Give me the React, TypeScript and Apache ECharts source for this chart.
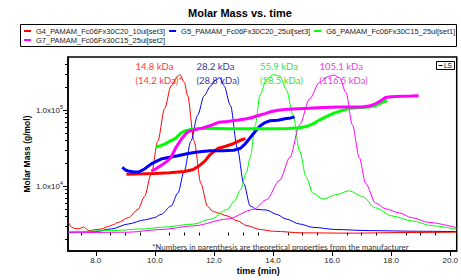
import React, { useEffect, useRef } from 'react';
import * as echarts from 'echarts';

// ---------- data ----------
const seriesNames = [
  'G4_PAMAM_Fc06Fx30C20_10ul[set3]',
  'G5_PAMAM_Fc06Fx30C20_25ul[set3]',
  'G6_PAMAM_Fc06Fx30C15_25ul[set1]',
  'G7_PAMAM_Fc06Fx30C15_25ul[set2]',
];

// Molar mass (g/mol) vs time (min)
const g4Mass = [
  [9.04, 14300], [9.3, 14400], [9.6, 14500], [10.0, 14700], [10.5, 15000], [11.0, 15600],
  [11.3, 16500], [11.5, 18500], [11.7, 21500], [11.85, 25500], [12.0, 28500], [12.15, 31500],
  [12.4, 33500], [12.6, 35500], [12.8, 38500], [12.95, 41000], [13.07, 42000],
];
const g5Mass = [
  [8.9, 17700], [9.0, 16300], [9.1, 15800], [9.3, 15300], [9.45, 15300], [9.65, 16800],
  [9.88, 19600], [10.05, 21200], [10.21, 22700], [10.5, 24000], [10.78, 25100], [11.05, 26500],
  [11.33, 27700], [11.6, 28500], [11.89, 29100], [12.3, 29300], [12.67, 29600], [12.9, 31500],
  [13.06, 36000], [13.2, 42000], [13.39, 52000], [13.56, 62000], [13.73, 68500], [13.9, 72500],
  [14.17, 73500], [14.4, 76800], [14.6, 79000], [14.73, 81000],
];
const g6Mass = [
  [10.04, 32700], [10.2, 34000], [10.35, 36000], [10.48, 38500], [10.7, 42500], [10.87, 49500],
  [11.0, 53000], [11.15, 55000], [11.5, 57500], [12.0, 57500], [12.5, 57000], [13.0, 57000],
  [13.5, 57000], [14.0, 57000], [14.5, 57500], [14.9, 58500], [15.12, 60800], [15.35, 66000],
  [15.57, 74000], [15.8, 82000], [16.02, 90000], [16.3, 98000], [16.58, 104600], [16.9, 108000],
  [17.25, 110000], [17.45, 114000], [17.59, 121000], [17.75, 128000], [17.87, 134000],
];
const g7Mass = [
  [9.88, 15800], [10.05, 17000], [10.21, 18700], [10.4, 21000], [10.55, 24000], [10.71, 32000],
  [10.85, 39000], [10.93, 43000], [11.05, 49000], [11.15, 52500], [11.33, 55000], [11.6, 58000],
  [11.94, 63800], [12.16, 69000], [12.45, 71000], [12.83, 74000], [13.1, 77000], [13.3, 80000],
  [13.5, 85000], [13.73, 90000], [13.95, 96000], [14.17, 99500], [14.5, 103000], [14.85, 104500],
  [15.2, 106000], [15.52, 107700], [16.19, 110000], [16.6, 110000], [17.03, 110000], [17.25, 113000],
  [17.47, 121000], [17.65, 133000], [17.81, 147000], [18.0, 150000], [18.37, 152000], [18.7, 153000],
  [18.93, 155000],
];

// Light-scattering detector signal (normalised) vs time (min)
const g4LS = [
  [7.06, 0.07], [7.19, 0.033], [7.3, 0.025], [7.42, 0.023], [7.52, 0.03], [7.59, 0.036], [7.66, 0.025],
  [7.76, 0.012], [7.88, 0.015], [7.98, 0.019], [8.1, 0.02], [8.2, 0.023], [8.43, 0.039], [8.6, 0.05],
  [8.76, 0.064], [9.1, 0.094], [9.43, 0.146], [9.65, 0.228], [9.88, 0.372], [10.1, 0.578], [10.33, 0.784],
  [10.55, 0.928], [10.78, 0.99], [10.85, 1.0], [11.0, 0.949], [11.11, 0.866], [11.33, 0.578], [11.56, 0.31],
  [11.78, 0.167], [11.95, 0.135], [12.12, 0.125], [12.45, 0.105], [12.79, 0.074], [13.12, 0.043],
  [13.57, 0.019], [14.01, 0.008], [15.01, -0.002], [16.69, -0.004], [18.5, 0.0], [20.22, 0.002],
];
const g5LS = [
  [7.06, 0.002], [7.98, 0.006], [8.54, 0.023], [9.1, 0.054], [9.65, 0.08], [9.99, 0.094], [10.21, 0.115],
  [10.55, 0.167], [10.78, 0.249], [11.0, 0.393], [11.22, 0.578], [11.45, 0.743], [11.67, 0.866],
  [11.89, 0.928], [12.05, 0.965], [12.2, 0.98], [12.34, 0.93], [12.56, 0.804], [12.79, 0.537],
  [13.01, 0.31], [13.23, 0.167], [13.46, 0.146], [13.78, 0.142], [14.12, 0.115], [14.45, 0.085],
  [14.9, 0.054], [15.35, 0.033], [16.13, 0.019], [17.25, 0.012], [18.93, 0.008], [20.22, 0.006],
];
const g6LS = [
  [7.06, 0.002], [8.5, 0.012], [9.65, 0.023], [10.21, 0.033], [11.33, 0.054], [11.89, 0.085],
  [12.45, 0.146], [12.7, 0.2], [12.9, 0.27], [13.1, 0.38], [13.23, 0.475], [13.4, 0.68], [13.56, 0.87],
  [13.78, 0.969], [14.01, 1.0], [14.23, 0.99], [14.45, 0.907], [14.68, 0.743], [14.9, 0.517],
  [15.12, 0.352], [15.35, 0.249], [15.69, 0.212], [16.13, 0.239], [16.58, 0.264], [17.03, 0.228],
  [17.47, 0.156], [18.03, 0.105], [18.7, 0.074], [19.38, 0.043], [20.22, 0.02],
];
const g7LS = [
  [7.06, -0.002], [9.1, 0.002], [10.21, 0.019], [11.33, 0.043], [12.45, 0.085], [13.34, 0.146],
  [13.78, 0.208], [14.23, 0.331], [14.57, 0.475], [14.9, 0.681], [15.24, 0.846], [15.57, 0.949],
  [15.91, 0.99], [16.05, 0.997], [16.25, 0.98], [16.47, 0.887], [16.69, 0.681], [16.92, 0.475],
  [17.14, 0.31], [17.47, 0.187], [17.81, 0.15], [18.26, 0.125], [18.7, 0.094], [19.26, 0.064],
  [20.22, 0.03],
];

const xTickLabels = [8, 10, 12, 14, 16, 18, 20];
const xMinorTicks = [7.5, 8.5, 9, 9.5, 10.5, 11, 11.5, 12.5, 13, 13.5, 14.5, 15, 15.5, 16.5, 17, 17.5, 18.5, 19, 19.5];
const yMajorTicks = [10000, 100000];
const yMinorTicks = [
  2000, 3000, 4000, 5000, 6000, 7000, 8000, 9000,
  20000, 30000, 40000, 50000, 60000, 70000, 80000, 90000,
  200000, 300000, 400000,
];
const measuredMass = ['14.8 kDa', '28.2 kDa', '55.9 kDa', '105.1 kDa'];
const theoreticalMass = ['(14.2 kDa)*', '(28.8 kDa)', '(58.5 kDa)', '(116.5 kDa)'];
const footnote = '*Numbers in parenthesis are theoretical properties from the manufacturer';

// ---------- styles ----------
const lineColors = ['#ff0000', '#0000ff', '#00ff00', '#ff00ff'];
const noteColors = ['#ff3a3a', '#3838a8', '#3fdc3f', '#e445e4'];
const noteX = [135.5, 196.5, 260, 319.5];

export default function App() {
  const ref = useRef<HTMLDivElement>(null);
  useEffect(() => {
    const chart = echarts.init(ref.current as HTMLDivElement, null, { renderer: 'svg' });
    const xMin = 7.06, xMax = 20.22;
    const yMin = 1400, yMax = 500000;
    const lsMin = -0.117, lsMax = 1.111;
    const massSets = [g4Mass, g5Mass, g6Mass, g7Mass];
    const lsSets = [g4LS, g5LS, g6LS, g7LS];
    const series: any[] = [];
    lsSets.forEach((d, i) =>
      series.push({
        name: seriesNames[i] + ' LS', type: 'line', xAxisIndex: 0, yAxisIndex: 1, data: d,
        symbol: 'none', smooth: 0.3, smoothMonotone: 'x', silent: true, z: 2,
        lineStyle: { color: lineColors[i], width: 1 }, itemStyle: { color: lineColors[i] },
      })
    );
    massSets.forEach((d, i) =>
      series.push({
        name: seriesNames[i], type: 'line', xAxisIndex: 0, yAxisIndex: 0, data: d,
        symbol: 'none', silent: true, z: 3,
        lineStyle: { color: lineColors[i], width: 3 }, itemStyle: { color: lineColors[i] },
      })
    );

    const legendBase = {
      left: 24, orient: 'horizontal', itemGap: 4, itemWidth: 7, itemHeight: 2, icon: 'rect',
      padding: 0, selectedMode: false,
      textStyle: { fontSize: 7.5, fontFamily: 'Liberation Sans', color: '#222' },
    };

    const graphic: any[] = [
      {
        type: 'rect', silent: true, shape: { x: 20.5, y: 24.5, width: 436, height: 22 },
        style: { fill: 'none', stroke: '#000', lineWidth: 1 },
      },
      {
        type: 'group', silent: true, children: [
          { type: 'rect', shape: { x: 436.5, y: 61.5, width: 18, height: 8 }, style: { fill: '#fff', stroke: '#000', lineWidth: 1 } },
          { type: 'line', shape: { x1: 438.5, y1: 65.5, x2: 442.5, y2: 65.5 }, style: { stroke: '#000', lineWidth: 1 } },
          { type: 'text', x: 444, y: 65.8, style: { text: 'LS', fontSize: 6.5, fontFamily: 'Liberation Sans', fill: '#000', verticalAlign: 'middle', align: 'left' } },
        ],
      },
      {
        type: 'text', silent: true, x: 152, y: 247,
        style: { text: footnote, fontSize: 7.95, fontFamily: 'Lato', fill: '#333', verticalAlign: 'middle', align: 'left' },
      },
    ];
    measuredMass.forEach((t, i) => {
      graphic.push({
        type: 'text', silent: true, x: noteX[i], y: 66.7,
        style: { text: t, fontSize: 9.5, fontFamily: 'Lato', fill: noteColors[i], verticalAlign: 'middle', align: 'left' },
      });
      graphic.push({
        type: 'text', silent: true, x: noteX[i], y: 80.3,
        style: { text: theoreticalMass[i], fontSize: 9.5, fontFamily: 'Lato', fill: noteColors[i], verticalAlign: 'middle', align: 'left' },
      });
    });

    const logMin = Math.log10(yMin), logMax = Math.log10(yMax);

    chart.setOption({
      animation: false,
      backgroundColor: '#fff',
      title: {
        text: 'Molar Mass vs. time', left: 188, top: 7, padding: 0,
        textStyle: { fontSize: 11, fontWeight: 'bold', color: '#000', fontFamily: 'Liberation Sans' },
      },
      legend: [
        { ...legendBase, top: 27, data: seriesNames.slice(0, 3) },
        { ...legendBase, top: 36, data: [seriesNames[3]] },
      ],
      grid: { left: 68, right: 1, top: 57, bottom: 24, show: true, borderColor: '#000', borderWidth: 1.5, backgroundColor: 'transparent' },
      xAxis: [
        {
          type: 'value', min: xMin, max: xMax, position: 'bottom',
          axisLine: { show: true, onZero: false, lineStyle: { color: '#000', width: 1.5 } },
          axisTick: { show: true, customValues: xTickLabels, length: 5, lineStyle: { color: '#000' } },
          axisLabel: {
            customValues: xTickLabels, formatter: (v: number) => v.toFixed(1), fontSize: 8,
            fontFamily: 'Liberation Sans', color: '#222', margin: 5,
          },
          splitLine: { show: false },
          name: 'time (min)', nameLocation: 'middle', nameGap: 15, nameMoveOverlap: false,
          nameTextStyle: { fontSize: 9, fontWeight: 'bold', color: '#000', fontFamily: 'Liberation Sans', padding: [0, 8, 0, 0] },
        },
        {
          type: 'value', min: xMin, max: xMax, position: 'bottom',
          axisLine: { show: false },
          axisTick: { show: true, customValues: xMinorTicks, length: 3, lineStyle: { color: '#000' } },
          axisLabel: { show: false }, splitLine: { show: false },
        },
      ],
      yAxis: [
        {
          type: 'log', logBase: 10, min: yMin, max: yMax, position: 'left',
          axisLine: { show: true, onZero: false, lineStyle: { color: '#000', width: 1.5 } },
          axisTick: { show: false }, minorTick: { show: false },
          axisLabel: { show: false },
          splitLine: { show: false },
          name: 'Molar Mass (g/mol)', nameLocation: 'middle', nameGap: 37, nameMoveOverlap: false,
          nameTextStyle: { fontSize: 8.5, fontWeight: 'bold', color: '#000', fontFamily: 'Liberation Sans' },
        },
        { type: 'value', min: lsMin, max: lsMax, show: false },
        {
          // decade labels and major ticks of the log axis (log10 space)
          type: 'value', min: logMin, max: logMax, position: 'left',
          axisLine: { show: false },
          axisTick: { show: true, customValues: yMajorTicks.map(Math.log10), length: 5, lineStyle: { color: '#000' } },
          axisLabel: {
            customValues: yMajorTicks.map(Math.log10), margin: 5,
            formatter: (v: number) => '{a|1.0x10}{b|' + Math.round(v) + '}',
            rich: {
              a: { fontSize: 8, fontFamily: 'Liberation Sans', color: '#222', lineHeight: 13 },
              b: { fontSize: 5.5, fontFamily: 'Liberation Sans', color: '#222', verticalAlign: 'top', lineHeight: 13 },
            },
          },
          splitLine: { show: false },
        },
        {
          // minor ticks of the log axis (log10 space)
          type: 'value', min: logMin, max: logMax, position: 'left',
          axisLine: { show: false },
          axisTick: { show: true, customValues: yMinorTicks.map(Math.log10), length: 3, lineStyle: { color: '#000' } },
          axisLabel: { show: false }, splitLine: { show: false },
        },
      ],
      graphic,
      series,
    });
    return () => chart.dispose();
  }, []);
  return <div ref={ref} style={{ position: 'absolute', left: 0, top: 0, width: 461, height: 280 }} />;
}
